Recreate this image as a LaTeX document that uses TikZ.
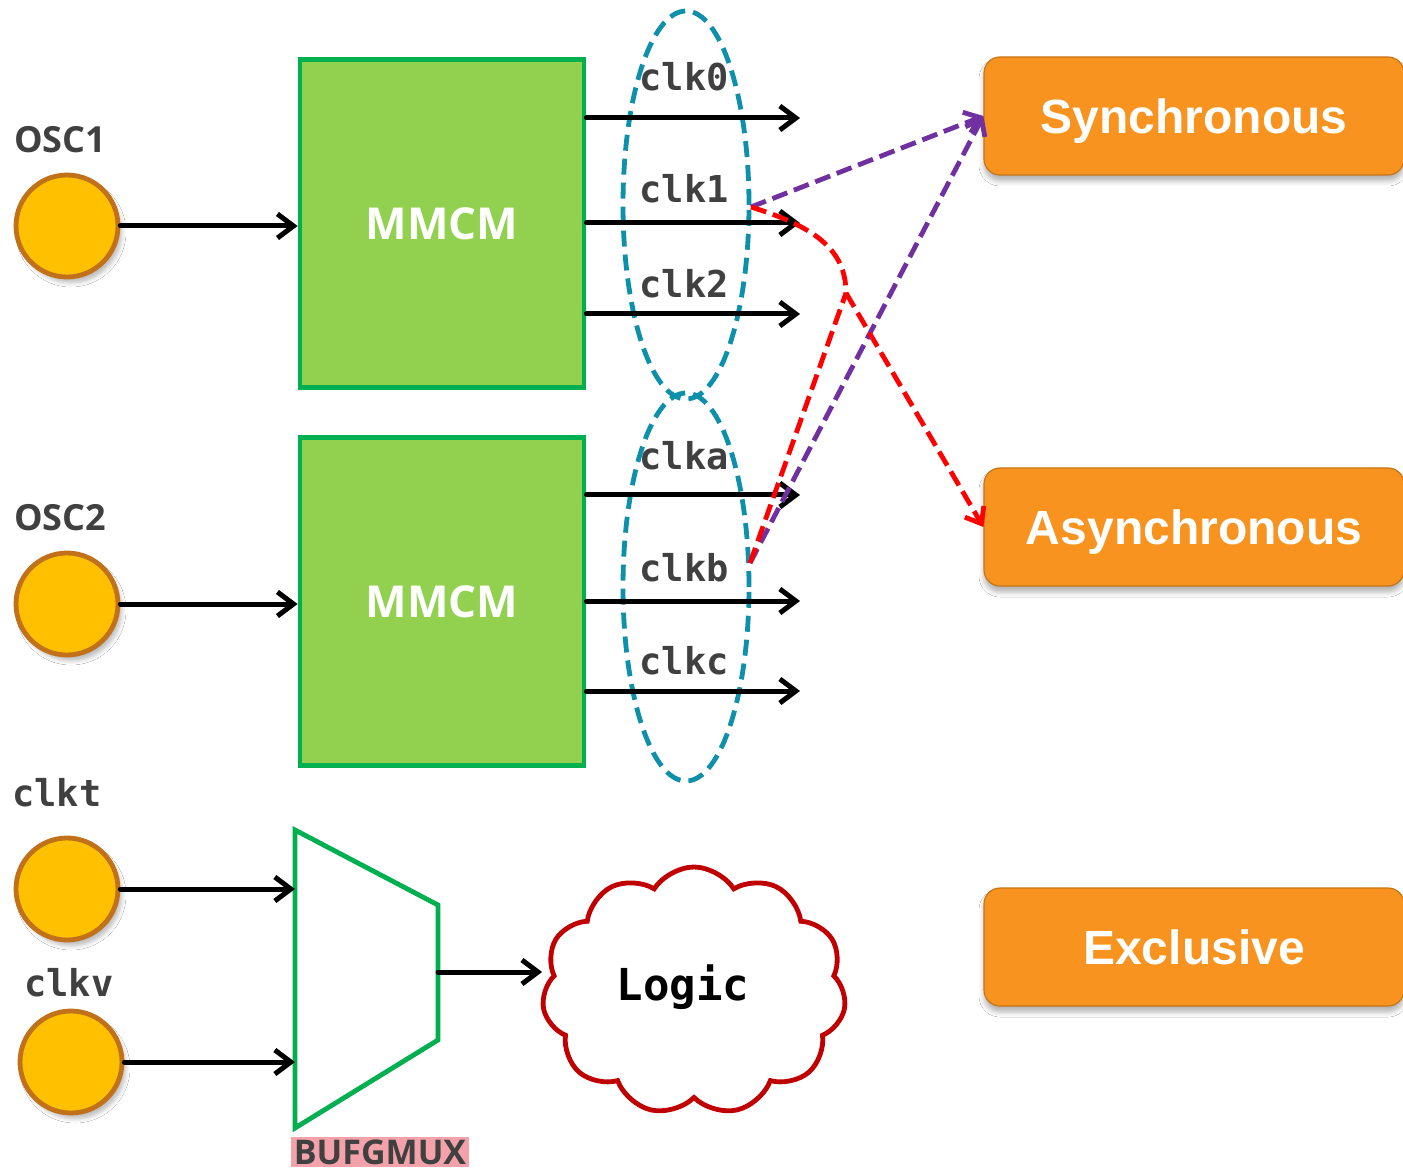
\documentclass[tikz,border=0pt]{standalone}
\usepackage{fontspec}
\usetikzlibrary{arrows.meta,shapes.geometric,shapes.symbols,shadows.blur,calc}
\newfontfamily\osans{Open Sans}
\newfontfamily\lsans{Liberation Sans}
\setmonofont{DejaVu Sans Mono}
\definecolor{oscfill}{HTML}{FFC000}
\definecolor{oscdraw}{HTML}{C0711A}
\definecolor{mmfill}{HTML}{92D050}
\definecolor{mmdraw}{HTML}{00B050}
\definecolor{grpc}{HTML}{0E90AA}
\definecolor{purp}{HTML}{7030A0}
\definecolor{orng}{HTML}{F7931E}
\definecolor{txtgrey}{HTML}{404040}
\definecolor{cloudred}{HTML}{C00000}
\definecolor{hilite}{HTML}{F4A2AA}
\tikzset{
  osc/.style={circle, draw=oscdraw, fill=oscfill, line width=2.4pt, minimum size=51pt, inner sep=0pt,
    blur shadow={shadow xshift=2pt, shadow yshift=-3pt, shadow opacity=25, shadow blur radius=2pt}},
  mmcm/.style={draw=mmdraw, fill=mmfill, line width=2.4pt, minimum width=142pt, minimum height=164pt, inner sep=0pt,
    text=white, font=\osans\bfseries\fontsize{22}{26}\selectfont},
  arr/.style={line width=2.5pt, line cap=round, -{Straight Barb[length=8pt,width=12pt]}},
  clklbl/.style={text=txtgrey, font=\ttfamily\bfseries\fontsize{18.5}{20}\selectfont, inner sep=0pt},
  osclbl/.style={text=txtgrey, font=\osans\bfseries\fontsize{18}{20}\selectfont, inner sep=0pt},
  grp/.style={ellipse, draw=grpc, line width=2.4pt, dash pattern=on 8pt off 4pt, minimum width=63pt, minimum height=194pt, inner sep=0pt},
  cls/.style={rounded corners=8pt, fill=orng, draw=orng!80!black, line width=0.6pt, minimum width=210pt, minimum height=59pt,
    text=white, font=\lsans\bfseries\fontsize{24}{28}\selectfont, text height=17.2pt, text depth=0pt,
    blur shadow={shadow xshift=0pt, shadow yshift=-3pt, shadow opacity=30, shadow blur radius=2.5pt}},
  purparr/.style={draw=purp, line width=2.4pt, dash pattern=on 8pt off 3.5pt, -{Straight Barb[length=7pt,width=11pt]}},
  redline/.style={draw=red, line width=2.4pt, dash pattern=on 8pt off 3.5pt},
}
\begin{document}
\begin{tikzpicture}[x=0.5pt, y=-0.5pt]
\useasboundingbox (0,0) rectangle (1403,1171);
\fill[white] (0,0) rectangle (1403,1171);

% oscillators and labels
\node[osclbl] (l1) at (60,140) {OSC1};
\node[osc] (osc1) at (67,226) {};
\node[osclbl] (l2) at (60,518) {OSC2};
\node[osc] (osc2) at (67,604) {};
\node[clklbl] (lt) at (57,793) {clkt};
\node[osc] (osct) at (67,889) {};
\node[clklbl] (lv) at (69,983) {clkv};
\node[osc] (oscv) at (71,1062) {};

% MMCMs
\node[mmcm] (m1) at (442,223.5) {MMCM};
\node[mmcm] (m2) at (442,601.5) {MMCM};
\draw[arr] (osc1.east) -- (osc1.east -| m1.west);
\draw[arr] (osc2.east) -- (osc2.east -| m2.west);

% clock groups
\node[grp] (g1) at (686,205) {};
\node[grp] (g2) at (686,587) {};

\coordinate (t0) at (800,118);
\coordinate (t1) at (800,223);
\coordinate (t2) at (800,314);
\coordinate (ta) at (800,495);
\coordinate (tb) at (800,601);
\coordinate (tc) at (800,691);
\foreach \t in {t0,t1,t2}{\draw[arr] (\t -| m1.east) -- (\t);}
\foreach \t in {ta,tb,tc}{\draw[arr] (\t -| m2.east) -- (\t);}

\node[clklbl] (c0) at (684,77) {clk0};
\node[clklbl] (c1) at (684,189) {clk1};
\node[clklbl] (c2) at (684,284) {clk2};
\node[clklbl] (ca) at (684,456) {clka};
\node[clklbl] (cb) at (684,568) {clkb};
\node[clklbl] (cc) at (684,661) {clkc};

% classes
\node[cls] (sync) at (1194,116) {Synchronous};
\node[cls] (asyn) at (1194,527) {Asynchronous};
\node[cls] (excl) at (1194,947) {Exclusive};

% relations
\coordinate (s1) at (751,207);
\coordinate (sb) at (750,563);
\coordinate (j) at (846,293);
\draw[purparr] (s1) -- (sync.west);
\draw[purparr] (sb) -- (sync.west);
\draw[redline] (s1) .. controls (812,226) and (846,248) .. (j);
\draw[redline, -{Straight Barb[length=7pt,width=11pt]}] (j) -- (asyn.west);
\draw[redline] (sb) -- (j);

% BUFGMUX
\coordinate (ma) at (295,830);
\coordinate (mb) at (438,905);
\coordinate (mc) at (438,1040);
\coordinate (md) at (295,1128);
\coordinate (mo) at (438,972);
\draw[draw=mmdraw, line width=2.4pt] (ma) -- (mb) -- (mc) -- (md) -- cycle;
\draw[arr] (osct.east) -- (osct.east -| ma);
\draw[arr] (oscv.east) -- (oscv.east -| ma);
\node[fill=hilite, text=txtgrey, font=\osans\bfseries\fontsize{17}{20}\selectfont, inner sep=1.5pt] (bl) at (380,1152) {BUFGMUX};

% logic cloud
\node[cloud, cloud puffs=11, cloud puff arc=115, draw=cloudred, line width=2.4pt, minimum width=152pt, minimum height=124pt] (logic) at (694,991) {};
\node[font=\ttfamily\bfseries\fontsize{22}{24}\selectfont, inner sep=0pt] (logictxt) at (683,987) {Logic};
\draw[arr] (mo) -- (mo -| logic.west);
\end{tikzpicture}
\end{document}
